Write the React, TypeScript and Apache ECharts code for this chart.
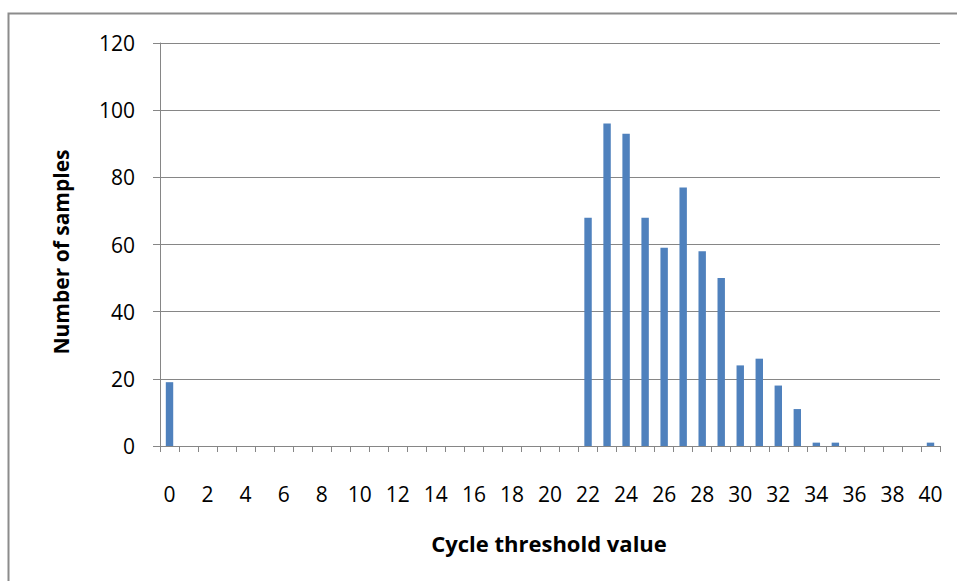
import React, { useEffect, useRef } from "react";
import * as echarts from "echarts";

const categories: string[] = Array.from({ length: 41 }, (_, i) => String(i));
const sampleCounts: number[] = [
  19, 0, 0, 0, 0, 0, 0, 0, 0, 0,
  0, 0, 0, 0, 0, 0, 0, 0, 0, 0,
  0, 0, 68, 96, 93, 68, 59, 77, 58, 50,
  24, 26, 18, 11, 1, 1, 0, 0, 0, 0,
  1,
];
const yTicks = { min: 0, max: 120, interval: 20 };
const xTitle = "Cycle threshold value";
const yTitle = "Number of samples";

export default function App() {
  const ref = useRef<HTMLDivElement>(null);
  useEffect(() => {
    if (!ref.current) return;
    const chart = echarts.init(ref.current, null, { renderer: "svg" });
    const font = "Open Sans, Liberation Sans, sans-serif";
    chart.setOption({
      animation: false,
      backgroundColor: "#ffffff",
      textStyle: { fontFamily: font },
      grid: { left: 160, right: 17, top: 43, bottom: 135, containLabel: false },
      graphic: [
        {
          type: "rect",
          shape: { x: 8.5, y: 13.5, width: 1000, height: 700 },
          style: { fill: "none", stroke: "#8c8c8c", lineWidth: 2 },
          silent: true,
        },
        {
          type: "text",
          x: 549,
          y: 543,
          style: {
            text: xTitle,
            fontFamily: font,
            fontWeight: "bold",
            fontSize: 22,
            fill: "#000",
            align: "center",
            verticalAlign: "middle",
          },
        },
        {
          type: "text",
          x: 61,
          y: 252,
          rotation: Math.PI / 2,
          style: {
            text: yTitle,
            fontFamily: font,
            fontWeight: "bold",
            fontSize: 21,
            fill: "#000",
            align: "center",
            verticalAlign: "middle",
          },
        },
      ],
      xAxis: {
        type: "category",
        data: categories,
        boundaryGap: true,
        axisLine: { lineStyle: { color: "#868686", width: 1 } },
        axisTick: { show: true, interval: 0, length: 6, lineStyle: { color: "#868686" } },
        axisLabel: { interval: 1, margin: 37, fontSize: 21, color: "#000", fontFamily: font },
      },
      yAxis: {
        type: "value",
        min: yTicks.min,
        max: yTicks.max,
        interval: yTicks.interval,
        axisLine: { show: true, lineStyle: { color: "#868686", width: 1 } },
        axisTick: { show: true, length: 7, lineStyle: { color: "#868686" } },
        axisLabel: { margin: 25, fontSize: 21, color: "#000", fontFamily: font },
        splitLine: { show: true, lineStyle: { color: "#868686", width: 1 } },
      },
      series: [
        {
          type: "bar",
          data: sampleCounts,
          barWidth: "39%",
          itemStyle: { color: "#4F81BD" },
        },
      ],
    });
    return () => chart.dispose();
  }, []);
  return (
    <div
      ref={ref}
      style={{ position: "absolute", left: 0, top: 0, width: 957, height: 581 }}
    />
  );
}
